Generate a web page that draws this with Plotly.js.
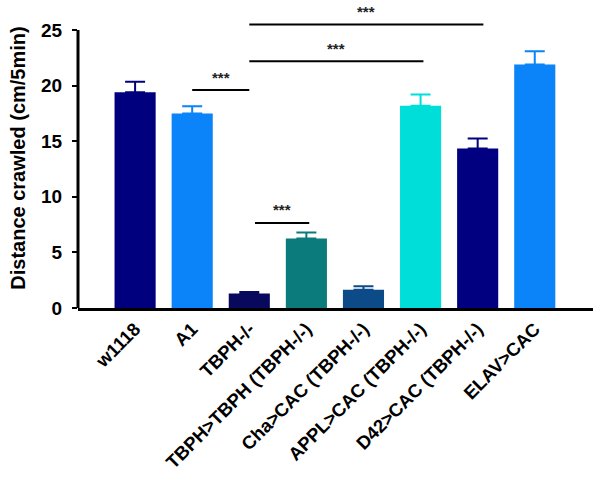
<!DOCTYPE html>
<html>
<head>
<meta charset="utf-8">
<script src="https://cdn.plot.ly/plotly-3.0.1.min.js"></script>
<style>html,body{margin:0;padding:0;background:#fff;}#chart{width:600px;height:491px;}</style>
</head>
<body>
<div id="chart"></div>
<script>
// ---- data ----
const categories = ["w1118", "A1", "TBPH-/-", "TBPH>TBPH (TBPH-/-)", "Cha>CAC (TBPH-/-)", "APPL>CAC (TBPH-/-)", "D42>CAC (TBPH-/-)", "ELAV>CAC"];
const distance = [19.4, 17.5, 1.3, 6.25, 1.65, 18.2, 14.35, 21.9];
const sem = [0.95, 0.65, 0.15, 0.55, 0.3, 1.0, 0.9, 1.2];
const barColors = ["#00007F", "#0A84F8", "#08085C", "#0B7B7B", "#0C4A88", "#00DED9", "#000080", "#0A84F8"];

// significance brackets (category positions, height in cm/5min)
const sigStart = [1.0, 2.1, 2.0, 2.0];
const sigEnd = [2.0, 3.05, 6.1, 5.05];
const sigHeight = [19.6, 7.65, 25.5, 22.2];
const sigLabel = ["***", "***", "***", "***"];

const yTicks = [0, 5, 10, 15, 20, 25];
const yTitle = "Distance crawled (cm/5min)";

// ---- build ----
const FONT = "Arial, 'Liberation Sans', sans-serif";
const traces = categories.map((c, i) => ({
  type: "bar",
  x: [c],
  y: [distance[i]],
  marker: {color: barColors[i], line: {width: 0}},
  width: 0.72,
  error_y: {type: "data", symmetric: false, array: [sem[i]], arrayminus: [0], color: barColors[i], thickness: 2, width: 10},
  showlegend: false,
  hoverinfo: "x+y"
}));

const shapes = [{
  type: "line", xref: "paper", yref: "y", x0: 0, x1: 0, y0: 0, y1: yTicks[yTicks.length - 1],
  line: {color: "#000", width: 3}
}];
const annotations = [];
sigStart.forEach((s, i) => {
  shapes.push({type: "line", xref: "x", yref: "y", x0: s, x1: sigEnd[i], y0: sigHeight[i], y1: sigHeight[i], line: {color: "#000", width: 2}});
  annotations.push({xref: "x", yref: "y", x: (s + sigEnd[i]) / 2, y: sigHeight[i], yshift: 13, yanchor: "middle",
    text: sigLabel[i], showarrow: false, font: {family: FONT, size: 15, color: "#222", weight: 700}});
});

const layout = {
  width: 600, height: 491,
  margin: {l: 78, r: 7, t: 8, b: 183},
  paper_bgcolor: "#fff", plot_bgcolor: "#fff",
  barmode: "overlay",
  font: {family: FONT, color: "#000"},
  xaxis: {
    type: "category", categoryarray: categories, range: [-1, 8.02],
    showline: true, linecolor: "#000", linewidth: 3, ticks: "", showgrid: false, zeroline: false,
    tickangle: -45,
    tickfont: {family: FONT, size: 18.5, color: "#000", weight: 700}
  },
  yaxis: {
    range: [0, 26.98], tickvals: yTicks, showline: false, showgrid: false, zeroline: false,
    ticks: "outside", ticklen: 5, tickwidth: 2, tickcolor: "#000", ticklabelstandoff: 6,
    tickfont: {family: FONT, size: 19, color: "#000", weight: 700},
    title: {text: yTitle, font: {family: FONT, size: 20, color: "#000", weight: 700}, standoff: 10}
  },
  shapes: shapes,
  annotations: annotations
};

Plotly.newPlot("chart", traces, layout, {displayModeBar: false, staticPlot: true});
</script>
</body>
</html>
